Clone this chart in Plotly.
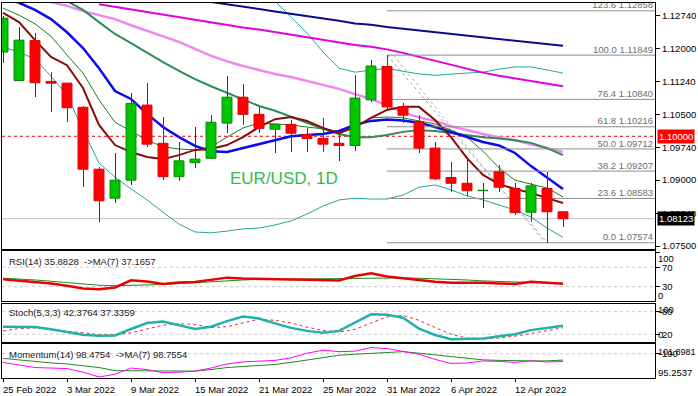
import plotly.graph_objects as go

# ---------------- data ----------------
bars = list(range(36))
date_ticks = [0, 4, 8, 12, 16, 20, 24, 28, 32]
date_labels = ["25 Feb 2022", "3 Mar 2022", "9 Mar 2022", "15 Mar 2022", "21 Mar 2022",
               "25 Mar 2022", "31 Mar 2022", "6 Apr 2022", "12 Apr 2022"]

opens = [1.1192, 1.1127, 1.1218, 1.1125, 1.1121, 1.1066, 1.0925, 1.0859, 1.0900, 1.1071,
         1.0984, 1.0908, 1.0940, 1.0950, 1.1030, 1.1089, 1.1050, 1.1016, 1.1027, 1.1004,
         1.0995, 1.0984, 1.0979, 1.1083, 1.1159, 1.1067, 1.1033, 1.0973, 1.0906, 1.0893,
         1.0876, 1.0919, 1.0881, 1.0827, 1.0881, 1.0828]
highs = [1.1275, 1.1250, 1.1235, 1.1147, 1.1121, 1.1068, 1.0930, 1.0961, 1.1098, 1.1122,
         1.1045, 1.0988, 1.1022, 1.1048, 1.1137, 1.1119, 1.1067, 1.1028, 1.1037, 1.1018,
         1.1041, 1.1008, 1.1140, 1.1174, 1.11849, 1.1075, 1.1048, 1.0988, 1.0941, 1.0953,
         1.0893, 1.0935, 1.0893, 1.0893, 1.0919, 1.0829]
lows = [1.1167, 1.1125, 1.1090, 1.1056, 1.1033, 1.0885, 1.0805, 1.0847, 1.0889, 1.0975,
        1.0900, 1.0898, 1.0927, 1.0949, 1.1007, 1.1026, 1.1007, 1.0961, 1.0964, 1.0965,
        1.0965, 1.0944, 1.0967, 1.1079, 1.1060, 1.1030, 1.0961, 1.0900, 1.0872, 1.0864,
        1.0836, 1.0874, 1.0821, 1.0805, 1.07574, 1.0794]
closes = [1.1269, 1.1219, 1.1122, 1.1121, 1.1065, 1.0925, 1.0853, 1.0900, 1.1075, 1.0982,
          1.0908, 1.0944, 1.0948, 1.1032, 1.1089, 1.1050, 1.1018, 1.1027, 1.1007, 1.0995,
          1.0982, 1.0979, 1.1087, 1.1160, 1.1067, 1.1048, 1.0973, 1.0903, 1.0893, 1.0876,
          1.0877, 1.0884, 1.0826, 1.0887, 1.0828, 1.08123]

N = None
ma_navy = [N] * 13 + [1.1306, 1.1301, 1.1295, 1.1290, 1.1284, 1.1279, 1.1273, 1.1268, 1.1263,
                      1.1257, 1.1254, 1.1249, 1.1245, 1.1241, 1.1238, 1.1233, 1.1229, 1.1225,
                      1.1221, 1.1217, 1.1213, 1.1209, 1.1206]
ma_magenta = [N] * 6 + [1.1301, 1.1295, 1.1289, 1.1284, 1.1278, 1.1272, 1.1266, 1.1260, 1.1254,
                        1.1248, 1.1243, 1.1237, 1.1231, 1.1225, 1.1219, 1.1213, 1.1208, 1.1204,
                        1.1198, 1.1190, 1.1181, 1.1171, 1.1162, 1.1153, 1.1145, 1.1138, 1.1132,
                        1.1125, 1.1119, 1.1114]
ma_violet = [N] * 3 + [1.1306, 1.1297, 1.1285, 1.1276, 1.1267, 1.1253, 1.1240, 1.1228, 1.1215,
                       1.1199, 1.1183, 1.1171, 1.1160, 1.1151, 1.1142, 1.1135, 1.1126, 1.1117,
                       1.1108, 1.1096, 1.1085, 1.1071, 1.1054, 1.1043, 1.1035, 1.1023, 1.1014,
                       1.1005, 1.0998, 1.0991, 1.0982, 1.0973, 1.0964]
ma_green = [N] * 4 + [1.1308, 1.1288, 1.1260, 1.1233, 1.1212, 1.1190, 1.1169, 1.1149, 1.1130,
                      1.1114, 1.1099, 1.1085, 1.1069, 1.1058, 1.1044, 1.1030, 1.1017, 1.1005,
                      1.0998, 1.0998, 1.1003, 1.1010, 1.1014, 1.1012, 1.1007, 1.1003, 1.0998,
                      1.0995, 1.0991, 1.0985, 1.0973, 1.0957]
ma_blue = [1.1317, 1.1304, 1.1288, 1.1267, 1.1237, 1.1201, 1.1155, 1.1103, 1.1085, 1.1051,
           1.1021, 1.0998, 1.0978, 1.0966, 1.0964, 1.0973, 1.0982, 1.0991, 1.1000, 1.1003,
           1.1005, 1.1012, 1.1026, 1.1035, 1.1038, 1.1036, 1.1031, 1.1021, 1.1010, 1.0999,
           1.0987, 1.0979, 1.0962, 1.0932, 1.0905, 1.0880]
ma_maroon = [1.1281, 1.1260, 1.1219, 1.1181, 1.1162, 1.1110, 1.1026, 1.0980, 1.0964, 1.0953,
             1.0948, 1.0957, 1.0969, 1.0971, 1.0980, 1.0998, 1.1021, 1.1039, 1.1044, 1.1035,
             1.1019, 1.1007, 1.1021, 1.1042, 1.1060, 1.1067, 1.1067, 1.1037, 1.0998, 1.0950,
             1.0912, 1.0891, 1.0880, 1.0871, 1.0859, 1.0848]
ma_thin = [1.1292, 1.1276, 1.1256, 1.1228, 1.1185, 1.1144, 1.1083, 1.1032, 1.1012, 1.0991,
           1.0976, 1.0971, 1.0969, 1.0976, 1.0998, 1.1019, 1.1030, 1.1028, 1.1026, 1.1021,
           1.1017, 1.1010, 1.1019, 1.1042, 1.1044, 1.1042, 1.1035, 1.1028, 1.1014, 1.0998,
           1.0966, 1.0928, 1.0900, 1.0891, 1.0882, 1.0862]
bb_upper = [N] * 16 + [1.1320, 1.1308, 1.1272, 1.1235, 1.1192, 1.1155, 1.1146, 1.1151, 1.1155,
                       1.1148, 1.1142, 1.1139, 1.1142, 1.1144, 1.1146, 1.1153, 1.1158, 1.1158,
                       1.1151, 1.1144]
bb_lower = [1.1203, 1.1192, 1.1176, 1.1137, 1.1094, 1.1014, 1.0939, 1.0907, 1.0880, 1.0855,
            1.0827, 1.0800, 1.0782, 1.0780, 1.0784, 1.0789, 1.0791, 1.0798, 1.0807, 1.0823,
            1.0841, 1.0855, 1.0859, 1.0857, 1.0857, 1.0866, 1.0884, 1.0889, 1.0878, 1.0864,
            1.0855, 1.0843, 1.0832, 1.0816, 1.0791, 1.0770]

fib_pcts = ["123.6", "100.0", "76.4", "61.8", "50.0", "38.2", "23.6", "0.0"]
fib_levels = [1.12858, 1.11849, 1.10840, 1.10216, 1.09712, 1.09207, 1.08583, 1.07574]
fib_start_bar = 24
trend_from = (24, 1.11849)
trend_to = (34, 1.07574)
key_level = 1.10000
last_price = 1.08123

price_ticks = [1.12740, 1.12000, 1.11240, 1.10500, 1.09740, 1.09000, 1.08240, 1.07500]

rsi = [45.3, 42.8, 39.0, 36.6, 32.0, 26.3, 24.6, 28.4, 43.2, 40.7, 35.6, 38.7, 39.7, 44.8,
       48.6, 47.0, 45.9, 45.3, 44.8, 44.2, 43.2, 42.8, 52.0, 57.6, 51.0, 47.3, 43.8, 40.3,
       38.2, 38.2, 38.2, 36.6, 35.6, 40.3, 38.2, 35.9]
rsi_ma = [47.3, 45.9, 43.8, 41.1, 38.2, 35.6, 32.9, 32.0, 32.0, 33.5, 34.5, 36.6, 38.7, 40.7,
          42.4, 43.8, 44.8, 45.3, 45.3, 45.3, 45.3, 45.9, 46.3, 47.3, 48.6, 48.0, 47.3, 46.3,
          45.9, 43.8, 41.8, 40.3, 39.0, 38.5, 38.0, 37.2]
stoch_k = [40, 40, 39, 33, 25, 19, 16, 17, 34, 50, 54, 44, 34, 40, 55, 67, 62, 49, 37, 29,
           24, 29, 52, 73, 72, 64, 35, 18, 7, 7, 9, 15, 20, 31, 37, 42.4]
stoch_d = [29, 35, 37, 33, 29, 24, 19, 19, 24, 33, 44, 48, 46, 38, 40, 50, 60, 57, 50, 39,
           30, 26, 33, 50, 66, 70, 57, 38, 20, 10, 8, 10, 15, 22, 30, 37.3]
momentum = [98.3, 97.8, 97.3, 97.2, 97.1, 96.4, 95.45, 96.0, 97.2, 96.9, 96.3, 96.4, 96.6,
            97.2, 98.0, 98.4, 98.5, 98.7, 99.2, 100.1, 100.7, 100.4, 100.5, 101.2, 101.0,
            100.5, 99.9, 98.9, 98.1, 98.2, 98.6, 98.5, 98.3, 98.6, 98.4, 98.48]
mom_ma = [99.1, 98.8, 98.4, 98.2, 98.0, 97.7, 97.3, 96.7, 96.7, 96.7, 96.7, 96.7, 96.6, 96.9,
          97.3, 97.5, 97.7, 97.9, 98.3, 98.8, 99.3, 99.7, 99.9, 100.1, 100.3, 100.4, 100.1,
          99.8, 99.4, 99.1, 98.8, 98.7, 98.6, 98.6, 98.6, 98.76]

# ---------------- layout constants ----------------
W, H = 698, 396
ML, MR, MT, MB = 2, 43, 3, 18
PX_PER_BAR = 16.0
X0 = -1.0 / PX_PER_BAR
X1 = X0 + (W - ML - MR) / PX_PER_BAR
PH = H - MT - MB


def dom(top_px, bot_px):
    return [(H - MB - bot_px) / PH, (H - MB - top_px) / PH]


MAIN_RANGE = [1.07432, 1.13036]
RSI_RANGE = [0.41, 103.5]
STO_RANGE = [-0.53, 100.3]
MOM_RANGE = [95.258, 101.898]
FONT = "Liberation Sans"
TF = dict(family=FONT, size=9.5, color="#000000")

fig = go.Figure()


def add_line(y, color, width, xa="x", ya="y", dash=None):
    fig.add_trace(go.Scatter(x=bars, y=y, mode="lines", xaxis=xa, yaxis=ya,
                             line=dict(color=color, width=width, dash=dash),
                             hoverinfo="skip", showlegend=False))


# ---- main panel indicators (under candles) ----
add_line(bb_upper, "#20a89a", 1)
add_line(bb_lower, "#20a89a", 1)
add_line(ma_navy, "#0a0a8a", 2)
add_line(ma_magenta, "#e000e0", 2)
add_line(ma_violet, "#ee88ee", 2.5)
add_line(ma_green, "#2e8b57", 2)
add_line(ma_thin, "#1e7a1e", 1)
add_line(ma_blue, "#0a0af0", 2.5)
add_line(ma_maroon, "#8b0a0a", 2)

# fib retracement lines + labels
for lvl in fib_levels:
    fig.add_trace(go.Scatter(x=[fib_start_bar, X1], y=[lvl, lvl], mode="lines",
                             line=dict(color="#8c8c8c", width=1), hoverinfo="skip",
                             showlegend=False))
fig.add_trace(go.Scatter(x=[X1 - 0.12] * len(fib_levels), y=fib_levels, mode="text",
                         text=[f"{p} {v:.5f}" for p, v in zip(fib_pcts, fib_levels)],
                         textposition="top left",
                         textfont=dict(family=FONT, size=9.5, color="#6e6e6e"),
                         hoverinfo="skip", showlegend=False, cliponaxis=True))

# ---- candles on overlay axis (drawn above indicators) ----
up = [c >= o for o, c in zip(opens, closes)]
body_fill = ["#00c400" if u else "#ff0000" for u in up]
body_edge = ["#008a00" if u else "#e00000" for u in up]
wick_col = ["#145214" if u else "#d00000" for u in up]
fig.add_trace(go.Bar(x=bars, base=lows, y=[h - l for h, l in zip(highs, lows)],
                     width=1.0 / PX_PER_BAR, marker=dict(color=wick_col, line=dict(width=0)),
                     xaxis="x", yaxis="y5", hoverinfo="skip", showlegend=False))
fig.add_trace(go.Bar(x=bars, base=[min(o, c) for o, c in zip(opens, closes)],
                     y=[max(abs(c - o), 0.00004) for o, c in zip(opens, closes)],
                     width=0.62, marker=dict(color=body_fill, line=dict(color=body_edge, width=1)),
                     xaxis="x", yaxis="y5", hoverinfo="skip", showlegend=False))

# ---- RSI ----
add_line(rsi_ma, "#1f8a1f", 1, "x2", "y2")
add_line(rsi, "#ee0000", 2.5, "x2", "y2")
# ---- Stochastic ----
add_line(stoch_d, "#e03030", 1, "x3", "y3", dash="dot")
add_line(stoch_k, "#20b2aa", 2.5, "x3", "y3")
# ---- Momentum ----
add_line(mom_ma, "#1f8a1f", 1, "x4", "y4")
add_line(momentum, "#ff00ff", 1, "x4", "y4")

shapes = []
# key level and last price lines
shapes.append(dict(type="line", xref="x domain", x0=0, x1=1, yref="y", y0=key_level, y1=key_level,
                   line=dict(color="#e00000", width=1, dash="3px,3px"), layer="below"))
shapes.append(dict(type="line", xref="x domain", x0=0, x1=1, yref="y", y0=last_price, y1=last_price,
                   line=dict(color="#c0c0c0", width=1), layer="below"))
# fib trend lines
shapes.append(dict(type="line", xref="x", yref="y", x0=trend_from[0], y0=trend_from[1],
                   x1=trend_to[0], y1=trend_to[1],
                   line=dict(color="#a0a0a0", width=1, dash="3px,3px"), layer="below"))
shapes.append(dict(type="line", xref="x", yref="y", x0=trend_from[0] + 0.4, y0=trend_from[1],
                   x1=trend_to[0] - 0.15, y1=trend_to[1],
                   line=dict(color="#b4b4b4", width=1, dash="3px,3px"), layer="below"))
# indicator level lines
for ax, lv in [("2", 70), ("2", 30), ("3", 80), ("3", 20), ("4", 100)]:
    shapes.append(dict(type="line", xref=f"x{ax} domain", x0=0, x1=1, yref=f"y{ax}", y0=lv, y1=lv,
                       line=dict(color="#c8c8c8", width=1, dash="3px,3px"), layer="below"))

annotations = []
# price boxes
annotations.append(dict(xref="paper", x=1, xanchor="left", xshift=2, yref="y", y=key_level,
                        yanchor="middle", text="1.10000", showarrow=False, bgcolor="#ff0000",
                        font=dict(family=FONT, size=9.5, color="#ffffff"), borderpad=1))
annotations.append(dict(xref="paper", x=1, xanchor="left", xshift=2, yref="y", y=last_price,
                        yanchor="middle", text="1.08123", showarrow=False, bgcolor="#000000",
                        font=dict(family=FONT, size=9.5, color="#ffffff"), borderpad=1))
# chart title
annotations.append(dict(xref="x domain", x=(228 - ML) / (W - ML - MR), xanchor="left",
                        yref="y domain", y=(249 - 178) / 246, yanchor="middle",
                        text="EUR/USD, 1D", showarrow=False,
                        font=dict(family=FONT, size=17, color="#33bb4a")))
# indicator titles
for ax, txt, yshift in [("2", "RSI(14) 35.8828 \u00a0->MA(7) 37.1657", -10),
                        ("3", "Stoch(5,3,3) 42.3764 37.3359", -8),
                        ("4", "Momentum(14) 98.4754 \u00a0->MA(7) 98.7554", -10)]:
    annotations.append(dict(xref="paper", x=(5) / (W - ML - MR), xanchor="left",
                            yref=f"y{ax} domain", y=1, yanchor="middle", yshift=yshift,
                            text=txt, showarrow=False, font=dict(family=FONT, size=9.5, color="#202020")))
# extra right-side labels on sub panels
for ax, txt, yv, ysh, fs in [("2", "100", 1, -7, 9.5), ("2", "0", 0, 6, 9.5),
                             ("3", "100", 1, -5, 9.5), ("3", "0", 0, 8, 9.5),
                             ("4", "101.8981", 1, -8, 9), ("4", "95.2537", 0, 6, 9.5)]:
    annotations.append(dict(xref="paper", x=1, xanchor="left", xshift=2, yref=f"y{ax} domain",
                            y=yv, yanchor="middle", yshift=ysh, text=txt, showarrow=False,
                            font=dict(family=FONT, size=fs, color="#000000"), borderpad=0))
# date labels
for b, lab in zip(date_ticks, date_labels):
    annotations.append(dict(xref="x4", x=b, xanchor="left", xshift=-2, yref="paper", y=0,
                            yanchor="middle", yshift=-11, text=lab, showarrow=False,
                            font=dict(family=FONT, size=9.5, color="#000000")))

ax_common = dict(showgrid=False, zeroline=False, showline=True, mirror=True,
                 linecolor="#000000", linewidth=1)
xcommon = dict(range=[X0, X1], showticklabels=False, ticks="", **ax_common)

fig.update_layout(
    width=W, height=H, margin=dict(l=ML, r=MR, t=MT, b=MB),
    paper_bgcolor="#ffffff", plot_bgcolor="#ffffff",
    barmode="overlay", bargap=0, showlegend=False,
    shapes=shapes, annotations=annotations,
    xaxis=dict(anchor="y", **xcommon),
    xaxis2=dict(anchor="y2", **xcommon),
    xaxis3=dict(anchor="y3", **xcommon),
    xaxis4=dict(anchor="y4", **{**xcommon, "ticks": "outside", "ticklen": 3,
                               "tickvals": date_ticks, "tickcolor": "#000000"}),
    yaxis=dict(domain=dom(3, 249), range=MAIN_RANGE, side="right", anchor="x",
               tickvals=price_ticks, ticktext=[f"{v:.5f}" for v in price_ticks],
               ticks="outside", ticklen=4, tickcolor="#000000", tickfont=TF, **ax_common),
    yaxis5=dict(overlaying="y", range=MAIN_RANGE, visible=False, anchor="x"),
    yaxis2=dict(domain=dom(251, 301), range=RSI_RANGE, side="right", anchor="x2",
                tickvals=[100, 70, 30, 0], ticktext=["", "70", "30", ""],
                ticks="outside", ticklen=4, tickcolor="#000000", tickfont=TF, **ax_common),
    yaxis3=dict(domain=dom(304, 342), range=STO_RANGE, side="right", anchor="x3",
                tickvals=[80, 20], ticktext=["80", "20"],
                ticks="outside", ticklen=4, tickcolor="#000000", tickfont=TF, **ax_common),
    yaxis4=dict(domain=dom(344, 378), range=MOM_RANGE, side="right", anchor="x4",
                tickvals=[100], ticktext=["100"],
                ticks="outside", ticklen=4, tickcolor="#000000", tickfont=TF, **ax_common),
)

fig.write_html("out.html", config={"displayModeBar": False, "staticPlot": True},
               post_script="document.body.style.margin='0px';")
